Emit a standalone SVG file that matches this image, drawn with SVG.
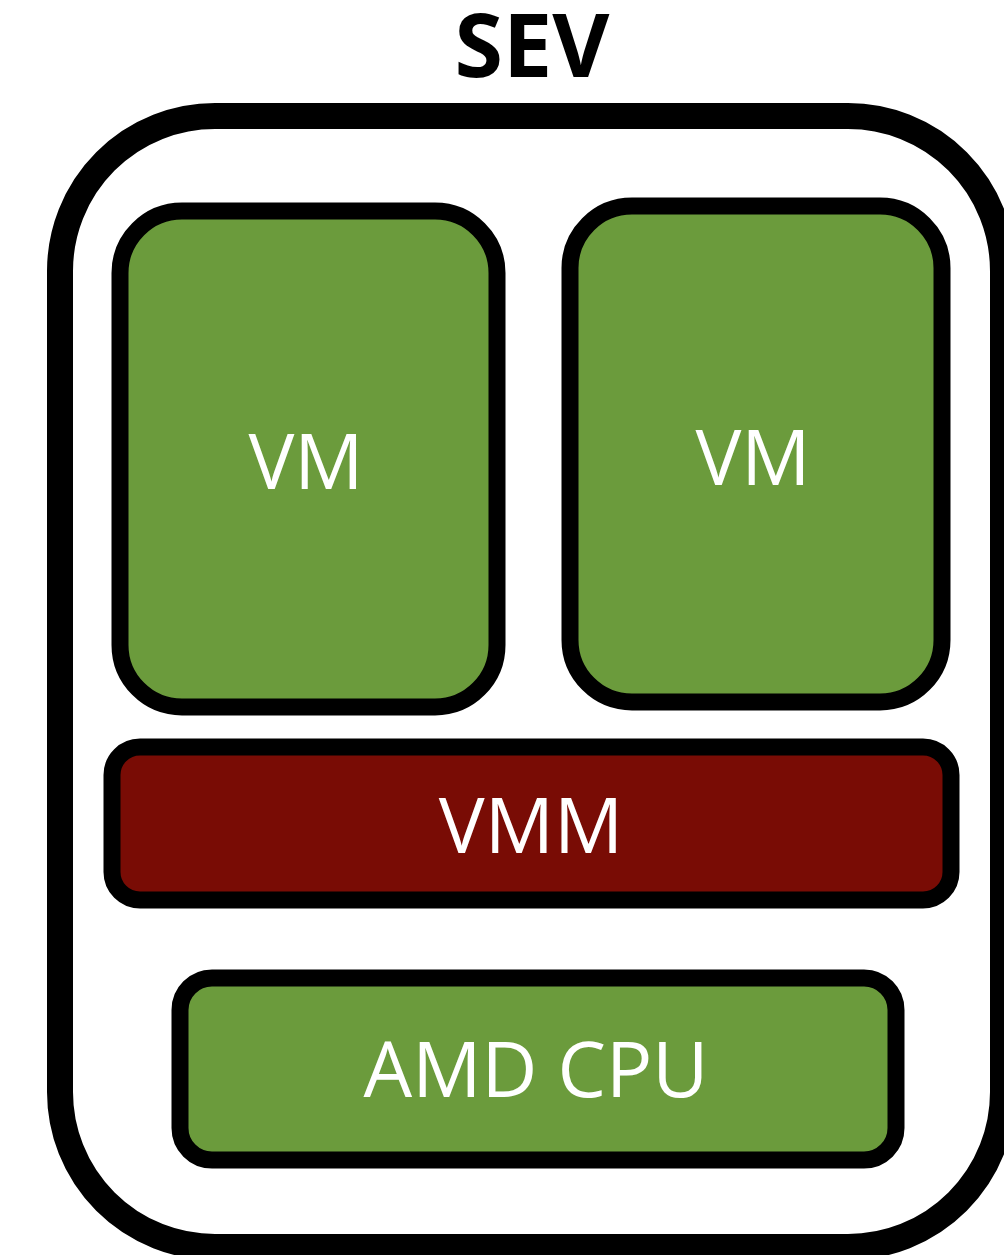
<svg xmlns="http://www.w3.org/2000/svg" width="1004" height="1255" viewBox="0 0 1004 1255">
  <style>
    .box { stroke: #000; stroke-width: 17; }
    .green { fill: #6b9b3c; }
    .red { fill: #790c05; }
    .lbl { font-family: "Open Sans", "Liberation Sans", sans-serif; font-size: 77px; fill: #fff; text-anchor: middle; }
    .title { font-family: "Open Sans", "Liberation Sans", sans-serif; font-size: 88px; font-weight: bold; fill: #000; text-anchor: middle; }
  </style>
  <rect width="1004" height="1255" fill="#fff"/>
  <text class="title" x="532" y="77">SEV</text>
  <g id="sev">
    <rect x="60" y="116" width="943" height="1131" rx="155" ry="155" fill="#fff" stroke="#000" stroke-width="26"/>
  </g>
  <g id="vm1">
    <rect class="box green" x="120" y="211" width="377" height="496" rx="62" ry="62"/>
    <text class="lbl" x="306" y="489">VM</text>
  </g>
  <g id="vm2">
    <rect class="box green" x="570" y="206" width="372" height="496" rx="62" ry="62"/>
    <text class="lbl" x="753" y="485">VM</text>
  </g>
  <g id="vmm">
    <rect class="box red" x="112" y="747" width="839" height="153" rx="28" ry="28"/>
    <text class="lbl" x="531" y="853">VMM</text>
  </g>
  <g id="cpu">
    <rect class="box green" x="180" y="978" width="716" height="182" rx="32" ry="32"/>
    <text class="lbl" x="536" y="1097">AMD CPU</text>
  </g>
  <g id="connectors"/>
</svg>
